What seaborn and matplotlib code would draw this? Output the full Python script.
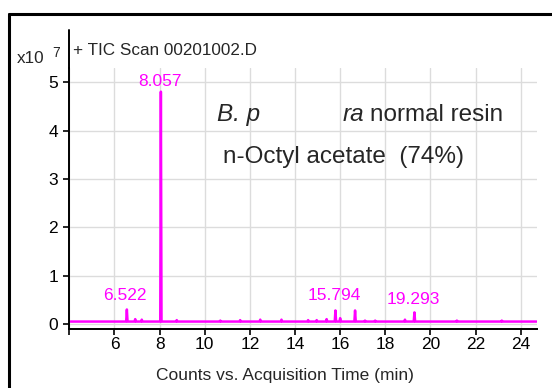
import matplotlib
matplotlib.use("Agg")
import matplotlib.pyplot as plt
import seaborn as sns
import pandas as pd
from matplotlib.lines import Line2D

# chromatogram trace (counts in units of 1e7)
rt_min = [4.05,
          6.52, 6.55, 6.58, 6.89, 6.92, 6.95, 7.18, 7.21, 7.24,
          8.03, 8.057, 8.085, 8.73, 8.76, 8.79, 10.66, 10.69, 10.72,
          11.54, 11.57, 11.60, 12.43, 12.46, 12.49, 13.37, 13.40, 13.43,
          14.55, 14.58, 14.61, 14.93, 14.96, 14.99, 15.37, 15.40, 15.43,
          15.76, 15.79, 15.82, 15.97, 16.00, 16.03, 16.63, 16.66, 16.69,
          17.07, 17.10, 17.13, 17.52, 17.55, 17.58, 18.84, 18.87, 18.90,
          19.26, 19.29, 19.32, 21.14, 21.17, 21.20, 23.13, 23.16, 23.19,
          24.70]
counts = [0.05,
          0.05, 0.30, 0.05, 0.05, 0.10, 0.05, 0.05, 0.09, 0.05,
          0.05, 4.81, 0.05, 0.05, 0.08, 0.05, 0.05, 0.07, 0.05,
          0.05, 0.08, 0.05, 0.05, 0.09, 0.05, 0.05, 0.09, 0.05,
          0.05, 0.08, 0.05, 0.05, 0.08, 0.05, 0.05, 0.10, 0.05,
          0.05, 0.28, 0.05, 0.05, 0.12, 0.05, 0.05, 0.28, 0.05,
          0.05, 0.07, 0.05, 0.05, 0.07, 0.05, 0.05, 0.09, 0.05,
          0.05, 0.24, 0.05, 0.05, 0.07, 0.05, 0.05, 0.07, 0.05,
          0.05]

peak_labels = ["6.522", "8.057", "15.794", "19.293"]
label_x = [6.47, 8.02, 15.73, 19.23]
label_y = [0.43, 4.87, 0.43, 0.36]

xticks = [4, 6, 8, 10, 12, 14, 16, 18, 20, 22, 24]
yticks = [0, 1, 2, 3, 4, 5]

df = pd.DataFrame({"time": rt_min, "counts": counts})

sns.set_style("whitegrid")
plt.rcParams['font.family'] = ['Liberation Sans', 'DejaVu Sans']

W, H = 552, 388
fig = plt.figure(figsize=(5.52, 3.88), dpi=100)
# plot area: left spine x=69.3, right end x=537, x-axis y=329, top of grid y=68
ax = fig.add_axes([69.3 / W, 1 - 329 / H, (537 - 69.3) / W, (329 - 68) / H])

sns.lineplot(data=df, x="time", y="counts", ax=ax, color="#ff00ff", linewidth=1.8, sort=False)

ax.set_xlim(4.0, 24.72)
ax.set_ylim(-0.104, 5.30)
ax.set_xticks(xticks)
ax.set_xticklabels([""] + [str(t) for t in xticks[1:]])
ax.set_yticks(yticks)

ax.grid(True, color="#dcdcdc", linewidth=1)
for s in ["top", "right"]:
    ax.spines[s].set_visible(False)
for s in ["left", "bottom"]:
    ax.spines[s].set_color("black")
    ax.spines[s].set_linewidth(1.4)
ax.tick_params(axis="x", bottom=True, length=4, width=1.2, pad=2, labelsize=12.5, colors="black")
ax.tick_params(axis="y", left=True, length=4, width=1.2, pad=4, labelsize=12.5, colors="black")

ax.set_xlabel("Counts vs. Acquisition Time (min)", fontsize=12.5)
ax.set_ylabel("")
ax.xaxis.set_label_coords(0.461, -0.148)

for lab, x, y in zip(peak_labels, label_x, label_y):
    ax.text(x, y, lab, color="#ff00ff", fontsize=12.5, ha="center", va="bottom")

# left spine continues up into the header
fig.add_artist(Line2D([69.3 / W, 69.3 / W], [1 - 68 / H, 1 - 30 / H], color="black", linewidth=1.4))

# header texts
fig.text(73 / W, 1 - 55 / H, "+ TIC Scan 00201002.D", fontsize=12.3, va="baseline")
fig.text(17 / W, 1 - 63 / H, "x10", fontsize=12.3, va="baseline")
fig.text(52 / W, 1 - 57 / H, "7", fontsize=10, va="baseline")

# sample annotation
fig.text(217 / W, 1 - 121 / H, "B. p", fontsize=17.5, style="italic", va="baseline")
fig.text(343 / W, 1 - 121 / H, "ra", fontsize=17.5, style="italic", va="baseline")
fig.text(370 / W, 1 - 121 / H, "normal resin", fontsize=17.5, va="baseline")
fig.text(223 / W, 1 - 163 / H, "n-Octyl acetate  (74%)", fontsize=17.5, va="baseline")

# outer frame of the screenshot (top and left edges only)
fig.add_artist(Line2D([9 / W, 1.0], [1 - 13.5 / H, 1 - 13.5 / H], color="black", linewidth=2.2))
fig.add_artist(Line2D([9 / W, 9 / W], [0.0, 1 - 13.5 / H], color="black", linewidth=2.2))

fig.savefig("out.png", dpi=100)
